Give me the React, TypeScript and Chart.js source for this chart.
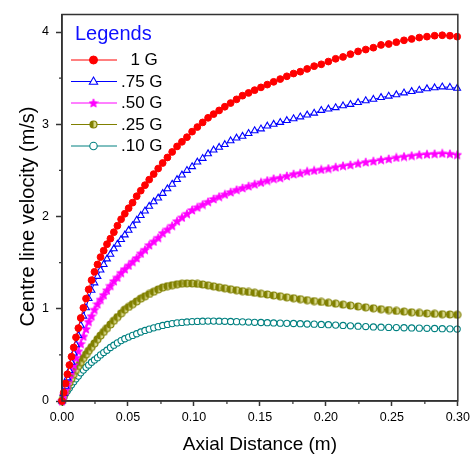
import React, { useEffect, useRef } from 'react';
import { Chart, registerables } from 'chart.js';

Chart.register(...registerables);

// ---------- data ----------
const axialDistance = [
  0, 0.0013, 0.0027, 0.0041, 0.0056, 0.0072, 0.0089, 0.0106, 0.0124, 0.0142,
  0.0162, 0.0182, 0.0202, 0.0224, 0.0246, 0.0269, 0.0292, 0.0316, 0.0341, 0.0367,
  0.0393, 0.042, 0.0448, 0.0476, 0.0505, 0.0535, 0.0566, 0.0597, 0.0629, 0.0661,
  0.0695, 0.0729, 0.0763, 0.0799, 0.0835, 0.0872, 0.0909, 0.0947, 0.0986, 0.1026,
  0.1066, 0.1107, 0.1149, 0.1191, 0.1234, 0.1278, 0.1323, 0.1368, 0.1414, 0.146,
  0.1508, 0.1556, 0.1604, 0.1654, 0.1704, 0.1755, 0.1806, 0.1858, 0.1911, 0.1965,
  0.2019, 0.2074, 0.213, 0.2186, 0.2244, 0.2302, 0.236, 0.2418, 0.2476, 0.2534,
  0.2592, 0.265, 0.2708, 0.2766, 0.2824, 0.2882, 0.294, 0.2995,
];

const velocity1G = [
  0, 0.09, 0.19, 0.29, 0.39, 0.48, 0.58, 0.69, 0.79, 0.9,
  1.01, 1.11, 1.21, 1.31, 1.4, 1.48, 1.56, 1.63, 1.7, 1.76,
  1.83, 1.9, 1.97, 2.03, 2.09, 2.15, 2.22, 2.28, 2.34, 2.4,
  2.46, 2.52, 2.58, 2.64, 2.7, 2.76, 2.81, 2.86, 2.92, 2.97,
  3.02, 3.07, 3.11, 3.15, 3.19, 3.23, 3.27, 3.31, 3.34, 3.37,
  3.4, 3.43, 3.46, 3.49, 3.52, 3.55, 3.57, 3.6, 3.63, 3.65,
  3.68, 3.71, 3.73, 3.76, 3.79, 3.81, 3.83, 3.86, 3.87, 3.89,
  3.91, 3.925, 3.94, 3.95, 3.96, 3.965, 3.96, 3.95,
];

const velocity075G = [
  0, 0.08, 0.16, 0.25, 0.33, 0.42, 0.52, 0.61, 0.71, 0.82,
  0.92, 1.01, 1.11, 1.2, 1.28, 1.35, 1.42, 1.48, 1.54, 1.59,
  1.65, 1.7, 1.75, 1.8, 1.85, 1.9, 1.96, 2.01, 2.06, 2.11,
  2.16, 2.2, 2.25, 2.3, 2.35, 2.4, 2.45, 2.5, 2.54, 2.59,
  2.63, 2.68, 2.72, 2.75, 2.78, 2.82, 2.85, 2.87, 2.9, 2.93,
  2.95, 2.98, 3.0, 3.02, 3.04, 3.06, 3.08, 3.1, 3.12, 3.15,
  3.165, 3.18, 3.2, 3.215, 3.235, 3.255, 3.27, 3.29, 3.305, 3.32,
  3.34, 3.355, 3.37, 3.385, 3.395, 3.405, 3.4, 3.39,
];

const velocity050G = [
  0, 0.06, 0.12, 0.18, 0.25, 0.32, 0.39, 0.47, 0.54, 0.62,
  0.7, 0.78, 0.86, 0.92, 0.99, 1.05, 1.1, 1.15, 1.2, 1.25,
  1.3, 1.34, 1.39, 1.43, 1.47, 1.51, 1.55, 1.6, 1.64, 1.69,
  1.73, 1.77, 1.82, 1.86, 1.9, 1.95, 1.99, 2.03, 2.07, 2.1,
  2.13, 2.16, 2.19, 2.215, 2.24, 2.265, 2.29, 2.31, 2.33, 2.35,
  2.37, 2.39, 2.41, 2.42, 2.44, 2.46, 2.47, 2.49, 2.5, 2.51,
  2.52, 2.535, 2.55, 2.56, 2.575, 2.59, 2.6, 2.615, 2.625, 2.64,
  2.65, 2.66, 2.67, 2.675, 2.68, 2.685, 2.68, 2.67,
];

const velocity025G = [
  0, 0.05, 0.1, 0.15, 0.2, 0.245, 0.29, 0.335, 0.38, 0.42,
  0.465, 0.505, 0.545, 0.585, 0.625, 0.67, 0.71, 0.75, 0.79, 0.83,
  0.87, 0.91, 0.95, 0.99, 1.02, 1.05, 1.08, 1.11, 1.135, 1.16,
  1.185, 1.21, 1.23, 1.245, 1.255, 1.265, 1.272, 1.275, 1.274, 1.27,
  1.263, 1.254, 1.243, 1.232, 1.222, 1.211, 1.201, 1.191, 1.182, 1.173,
  1.163, 1.155, 1.145, 1.135, 1.124, 1.114, 1.104, 1.093, 1.083, 1.074,
  1.065, 1.055, 1.045, 1.035, 1.025, 1.015, 1.005, 0.995, 0.986, 0.977,
  0.969, 0.962, 0.955, 0.949, 0.945, 0.941, 0.938, 0.935,
];

const velocity010G = [
  0, 0.04, 0.08, 0.11, 0.14, 0.175, 0.21, 0.24, 0.27, 0.305,
  0.335, 0.365, 0.39, 0.42, 0.445, 0.47, 0.5, 0.525, 0.55, 0.58,
  0.605, 0.63, 0.655, 0.675, 0.693, 0.711, 0.729, 0.748, 0.765, 0.779,
  0.793, 0.806, 0.819, 0.83, 0.839, 0.847, 0.852, 0.857, 0.861, 0.863,
  0.865, 0.866, 0.866, 0.865, 0.864, 0.862, 0.86, 0.858, 0.856, 0.853,
  0.851, 0.849, 0.846, 0.844, 0.842, 0.84, 0.838, 0.835, 0.833, 0.83,
  0.827, 0.823, 0.819, 0.815, 0.811, 0.807, 0.803, 0.8, 0.798, 0.796,
  0.794, 0.792, 0.79, 0.788, 0.786, 0.784, 0.782, 0.78,
];

const seriesLabels = ['  1 G', '.75 G', '.50 G', '.25 G', '.10 G'];
const xTickValues = [0, 0.05, 0.1, 0.15, 0.2, 0.25, 0.3];
const xMinorTickValues = [0.025, 0.075, 0.125, 0.175, 0.225, 0.275];
const yTickValues = [0, 1, 2, 3, 4];
const yMinorTickValues = [0.5, 1.5, 2.5, 3.5];

const legendTitle = 'Legends';
const xTitle = 'Axial Distance (m)';
const yTitle = 'Centre line velocity (m/s)';

const FONT = '"Liberation Sans", Arial, Helvetica, sans-serif';
const AXIS_COLOR = '#333333';

// ---------- marker images ----------
function makeStar(color: string, size: number) {
  const c = document.createElement('canvas');
  c.width = size;
  c.height = size;
  const g = c.getContext('2d')!;
  const cx = size / 2;
  const cy = size / 2 + 0.4;
  const R = size / 2 - 0.4;
  const r = R * 0.45;
  g.beginPath();
  for (let k = 0; k < 10; k++) {
    const a = -Math.PI / 2 + (k * Math.PI) / 5;
    const rad = k % 2 === 0 ? R : r;
    g.lineTo(cx + rad * Math.cos(a), cy + rad * Math.sin(a));
  }
  g.closePath();
  g.fillStyle = color;
  g.fill();
  g.strokeStyle = color;
  g.lineWidth = 0.8;
  g.stroke();
  return c;
}

function makeHalfCircle(dark: string, light: string, size: number) {
  const c = document.createElement('canvas');
  c.width = size;
  c.height = size;
  const g = c.getContext('2d')!;
  const cx = size / 2;
  const cy = size / 2;
  const r = size / 2 - 1;
  g.beginPath();
  g.arc(cx, cy, r, 0, Math.PI * 2);
  g.fillStyle = light;
  g.fill();
  g.beginPath();
  g.moveTo(cx, cy - r);
  g.arc(cx, cy, r, -Math.PI / 2, Math.PI / 2, true);
  g.closePath();
  g.fillStyle = dark;
  g.fill();
  g.beginPath();
  g.arc(cx, cy, r, 0, Math.PI * 2);
  g.strokeStyle = dark;
  g.lineWidth = 1.2;
  g.stroke();
  return c;
}

export default function App() {
  const canvasRef = useRef<HTMLCanvasElement | null>(null);

  useEffect(() => {
    const canvas = canvasRef.current;
    if (!canvas) return;

    const star = makeStar('#ff00ff', 10);
    const half = makeHalfCircle('#808000', '#d9d98c', 9);

    const styles = [
      { color: '#ff0000', pointStyle: 'circle' as any, radius: 3.4, bg: '#ff0000', bw: 1 },
      { color: '#0000ff', pointStyle: 'triangle' as any, radius: 3.9, bg: '#ffffff', bw: 1.1 },
      { color: '#ff00ff', pointStyle: star as any, radius: 5, bg: '#ff00ff', bw: 1 },
      { color: '#808000', pointStyle: half as any, radius: 4.5, bg: '#808000', bw: 1 },
      { color: '#008080', pointStyle: 'circle' as any, radius: 3.1, bg: '#ffffff', bw: 1.1 },
    ];
    const series = [velocity1G, velocity075G, velocity050G, velocity025G, velocity010G];

    const datasets = series.map((vals, si) => ({
      label: seriesLabels[si],
      data: axialDistance.map((x, i) => ({ x, y: vals[i] })),
      borderColor: styles[si].color,
      backgroundColor: styles[si].bg,
      borderWidth: 1,
      pointStyle: styles[si].pointStyle,
      pointRadius: styles[si].radius,
      pointBorderWidth: styles[si].bw,
      pointBorderColor: styles[si].color,
      pointBackgroundColor: styles[si].bg,
      tension: 0,
      fill: false,
      clip: false as any,
    }));

    const framePlugin = {
      id: 'frameAndExtras',
      afterDraw(chart: any) {
        const { ctx, chartArea } = chart;
        const xs = chart.scales.x;
        const ys = chart.scales.y;
        ctx.save();
        // frame
        ctx.strokeStyle = AXIS_COLOR;
        ctx.lineWidth = 1.5;
        ctx.strokeRect(chartArea.left, chartArea.top, chartArea.right - chartArea.left, chartArea.bottom - chartArea.top);
        // minor ticks
        ctx.lineWidth = 1.2;
        ctx.beginPath();
        xMinorTickValues.forEach((v) => {
          const px = xs.getPixelForValue(v);
          ctx.moveTo(px, chartArea.bottom);
          ctx.lineTo(px, chartArea.bottom + 3);
        });
        yMinorTickValues.forEach((v) => {
          const py = ys.getPixelForValue(v);
          ctx.moveTo(chartArea.left, py);
          ctx.lineTo(chartArea.left - 3, py);
        });
        ctx.stroke();

        // axis titles
        ctx.fillStyle = '#000000';
        ctx.font = `19px ${FONT}`;
        ctx.textAlign = 'center';
        ctx.textBaseline = 'middle';
        ctx.fillText(xTitle, (chartArea.left + chartArea.right) / 2, 445);
        ctx.save();
        ctx.translate(28.5, 216.5);
        ctx.rotate(-Math.PI / 2);
        ctx.font = `20px ${FONT}`;
        ctx.fillText(yTitle, 0, 0);
        ctx.restore();

        // legend
        ctx.textAlign = 'left';
        ctx.textBaseline = 'middle';
        ctx.fillStyle = '#1010ff';
        ctx.font = `20px ${FONT}`;
        ctx.fillText(legendTitle, 75, 34);
        const rowY = [60, 81.5, 103, 124.5, 146];
        chart.data.datasets.forEach((ds: any, i: number) => {
          const y = rowY[i];
          const st = styles[i];
          ctx.strokeStyle = st.color;
          ctx.lineWidth = 1;
          ctx.beginPath();
          ctx.moveTo(71, y);
          ctx.lineTo(117, y);
          ctx.stroke();
          const mx = 93.5;
          if (typeof st.pointStyle !== 'string') {
            const img = st.pointStyle as HTMLCanvasElement;
            ctx.drawImage(img, mx - img.width / 2, y - img.height / 2);
          } else if (st.pointStyle === 'circle') {
            ctx.beginPath();
            ctx.arc(mx, y, st.radius + 0.6, 0, Math.PI * 2);
            ctx.fillStyle = st.bg;
            ctx.fill();
            ctx.lineWidth = st.bw;
            ctx.strokeStyle = st.color;
            ctx.stroke();
          } else {
            const r = st.radius + 0.6;
            ctx.beginPath();
            ctx.moveTo(mx, y - r);
            ctx.lineTo(mx + r * 0.92, y + r * 0.6);
            ctx.lineTo(mx - r * 0.92, y + r * 0.6);
            ctx.closePath();
            ctx.fillStyle = st.bg;
            ctx.fill();
            ctx.lineWidth = st.bw;
            ctx.strokeStyle = st.color;
            ctx.stroke();
          }
          ctx.fillStyle = '#000000';
          ctx.font = `17px ${FONT}`;
          ctx.fillText(ds.label, 121, y + 0.5);
        });
        ctx.restore();
      },
    };

    const chart = new Chart(canvas, {
      type: 'line',
      data: { datasets: datasets as any },
      options: {
        responsive: false,
        animation: false,
        devicePixelRatio: 1,
        layout: { padding: { left: 0, top: 8, right: 16, bottom: 0 } },
        plugins: {
          legend: { display: false },
          tooltip: { enabled: false },
        },
        scales: {
          x: {
            type: 'linear',
            min: 0,
            max: 0.3,
            afterFit: (s: any) => {
              s.height = 56;
            },
            afterBuildTicks: (s: any) => {
              s.ticks = xTickValues.map((v) => ({ value: v }));
            },
            ticks: {
              callback: (v: any) => Number(v).toFixed(2),
              font: { family: FONT, size: 12.5 },
              color: '#000000',
              padding: 4,
              maxRotation: 0,
              autoSkip: false,
            },
            grid: {
              drawOnChartArea: false,
              drawTicks: true,
              tickLength: 5,
              tickColor: AXIS_COLOR,
              tickWidth: 1.5,
            },
            border: { display: true, color: AXIS_COLOR, width: 1.5 },
          },
          y: {
            type: 'linear',
            min: 0,
            max: 4.19,
            afterFit: (s: any) => {
              s.width = 62;
            },
            afterBuildTicks: (s: any) => {
              s.ticks = yTickValues.map((v) => ({ value: v }));
            },
            ticks: {
              callback: (v: any) => String(v),
              font: { family: FONT, size: 12.5 },
              color: '#000000',
              padding: 7,
              autoSkip: false,
            },
            grid: {
              drawOnChartArea: false,
              drawTicks: true,
              tickLength: 6,
              tickColor: AXIS_COLOR,
              tickWidth: 1.5,
            },
            border: { display: true, color: AXIS_COLOR, width: 1.5 },
          },
        },
      },
      plugins: [framePlugin],
    });

    return () => {
      chart.destroy();
    };
  }, []);

  return (
    <div style={{ position: 'absolute', left: 0, top: 0, width: 474, height: 457, background: '#ffffff' }}>
      <canvas ref={canvasRef} width={474} height={457} />
    </div>
  );
}
